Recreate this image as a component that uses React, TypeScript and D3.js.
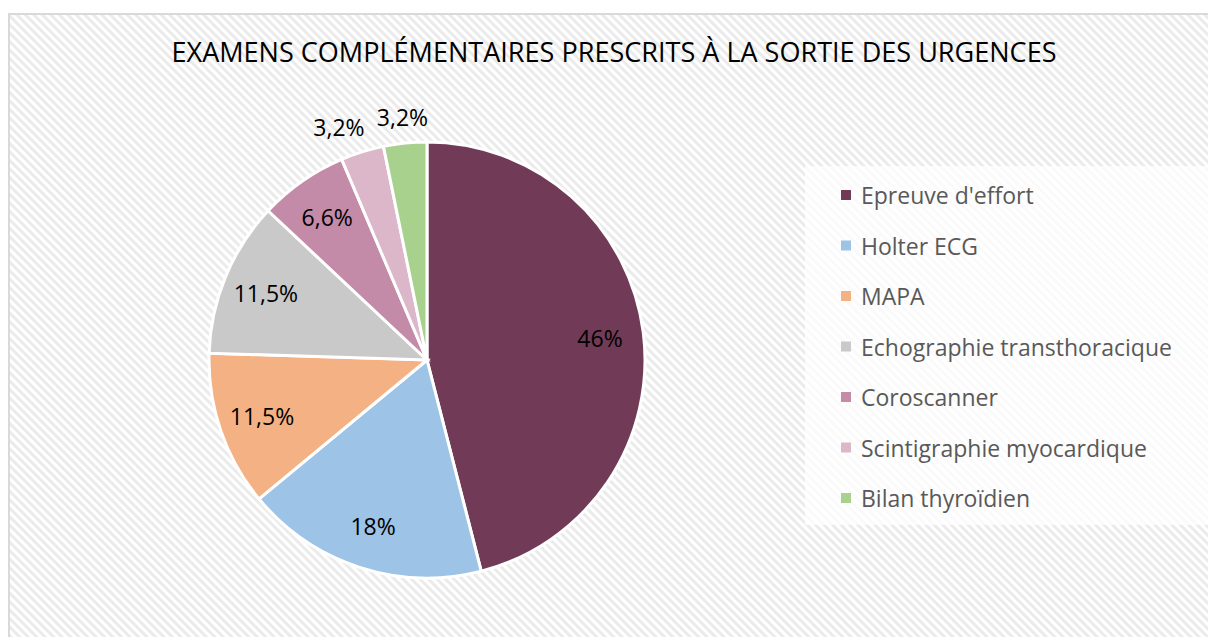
import React from "react";
import * as d3 from "d3";

const categories = [
  "Epreuve d'effort",
  "Holter ECG",
  "MAPA",
  "Echographie transthoracique",
  "Coroscanner",
  "Scintigraphie myocardique",
  "Bilan thyroïdien",
];
const values = [46, 18, 11.5, 11.5, 6.6, 3.2, 3.2];
const valueLabels = ["46%", "18%", "11,5%", "11,5%", "6,6%", "3,2%", "3,2%"];
const colors = ["#713b57", "#9dc3e6", "#f4b183", "#c9c9c9", "#c38ba8", "#dcb7c9", "#a9d18e"];
const title = "EXAMENS COMPLÉMENTAIRES PRESCRITS À LA SORTIE DES URGENCES";

const W = 1208;
const H = 637;
const cx = 427;
const cy = 360;
const R = 218;

export default function App() {
  const pie = d3.pie<number>().sort(null).value((d) => d);
  const arcs = pie(values);
  const arc = d3.arc<d3.PieArcDatum<number>>().innerRadius(0).outerRadius(R);
  const labelArcIn = d3.arc<d3.PieArcDatum<number>>().innerRadius(R * 0.8).outerRadius(R * 0.8);
  const labelArcOut = d3.arc<d3.PieArcDatum<number>>().innerRadius(R * 1.12).outerRadius(R * 1.12);
  const legendY = d3.scaleLinear().domain([0, categories.length - 1]).range([195, 498]);
  const font = "'Open Sans', 'Liberation Sans', sans-serif";
  const labelSize = 23;

  // compute label positions, nudging outside labels apart (counter-clockwise from last)
  const positions: [number, number][] = arcs.map((a, i) =>
    values[i] < 5 ? (labelArcOut.centroid(a) as [number, number]) : (labelArcIn.centroid(a) as [number, number])
  );
  const approxW = (s: string) => s.length * labelSize * 0.56;
  for (let i = arcs.length - 2; i >= 0; i--) {
    if (values[i] < 5 && values[i + 1] < 5) {
      const right = positions[i][0] + approxW(valueLabels[i]) / 2;
      const nextLeft = positions[i + 1][0] - approxW(valueLabels[i + 1]) / 2;
      const gap = 12;
      if (right > nextLeft - gap) positions[i][0] -= right - (nextLeft - gap);
    }
  }

  return (
    <svg width={W} height={H} style={{ position: "absolute", left: 0, top: 0 }}>
      <defs>
        <pattern id="hatch" width={6} height={6} patternUnits="userSpaceOnUse" patternTransform="rotate(-45)">
          <rect width={6} height={6} fill="#ffffff" />
          <rect x={0} y={0} width={3} height={6} fill="#ebebeb" />
        </pattern>
      </defs>
      <rect x={0} y={0} width={W} height={H} fill="#ffffff" />
      <rect x={9} y={14} width={W + 10} height={H + 10} fill="url(#hatch)" stroke="#d9d9d9" strokeWidth={2} />
      <text
        x={614}
        y={62}
        textAnchor="middle"
        fontFamily="'Liberation Sans Narrow', 'Open Sans', sans-serif"
        fontSize={28}
        fill="#000"
        textLength={885}
        lengthAdjust="spacingAndGlyphs"
      >
        {title}
      </text>
      <g transform={`translate(${cx},${cy})`}>
        {arcs.map((a, i) => (
          <path key={i} d={arc(a) || ""} fill={colors[i]} stroke="#ffffff" strokeWidth={3} />
        ))}
        {arcs.map((a, i) => {
          const [x, y] = positions[i];
          return (
            <text
              key={i}
              x={x}
              y={y}
              textAnchor="middle"
              dominantBaseline="central"
              fontFamily={font}
              fontSize={labelSize}
              fill="#000"
            >
              {valueLabels[i]}
            </text>
          );
        })}
      </g>
      <rect x={805} y={166} width={W - 805 + 10} height={359} fill="#ffffff" fillOpacity={0.75} />
      {categories.map((c, i) => (
        <g key={i} transform={`translate(841,${legendY(i)})`}>
          <rect x={0} y={-5} width={10} height={10} fill={colors[i]} />
          <text x={20} y={0} dominantBaseline="central" fontFamily={font} fontSize={23} fill="#595959">
            {c}
          </text>
        </g>
      ))}
    </svg>
  );
}
